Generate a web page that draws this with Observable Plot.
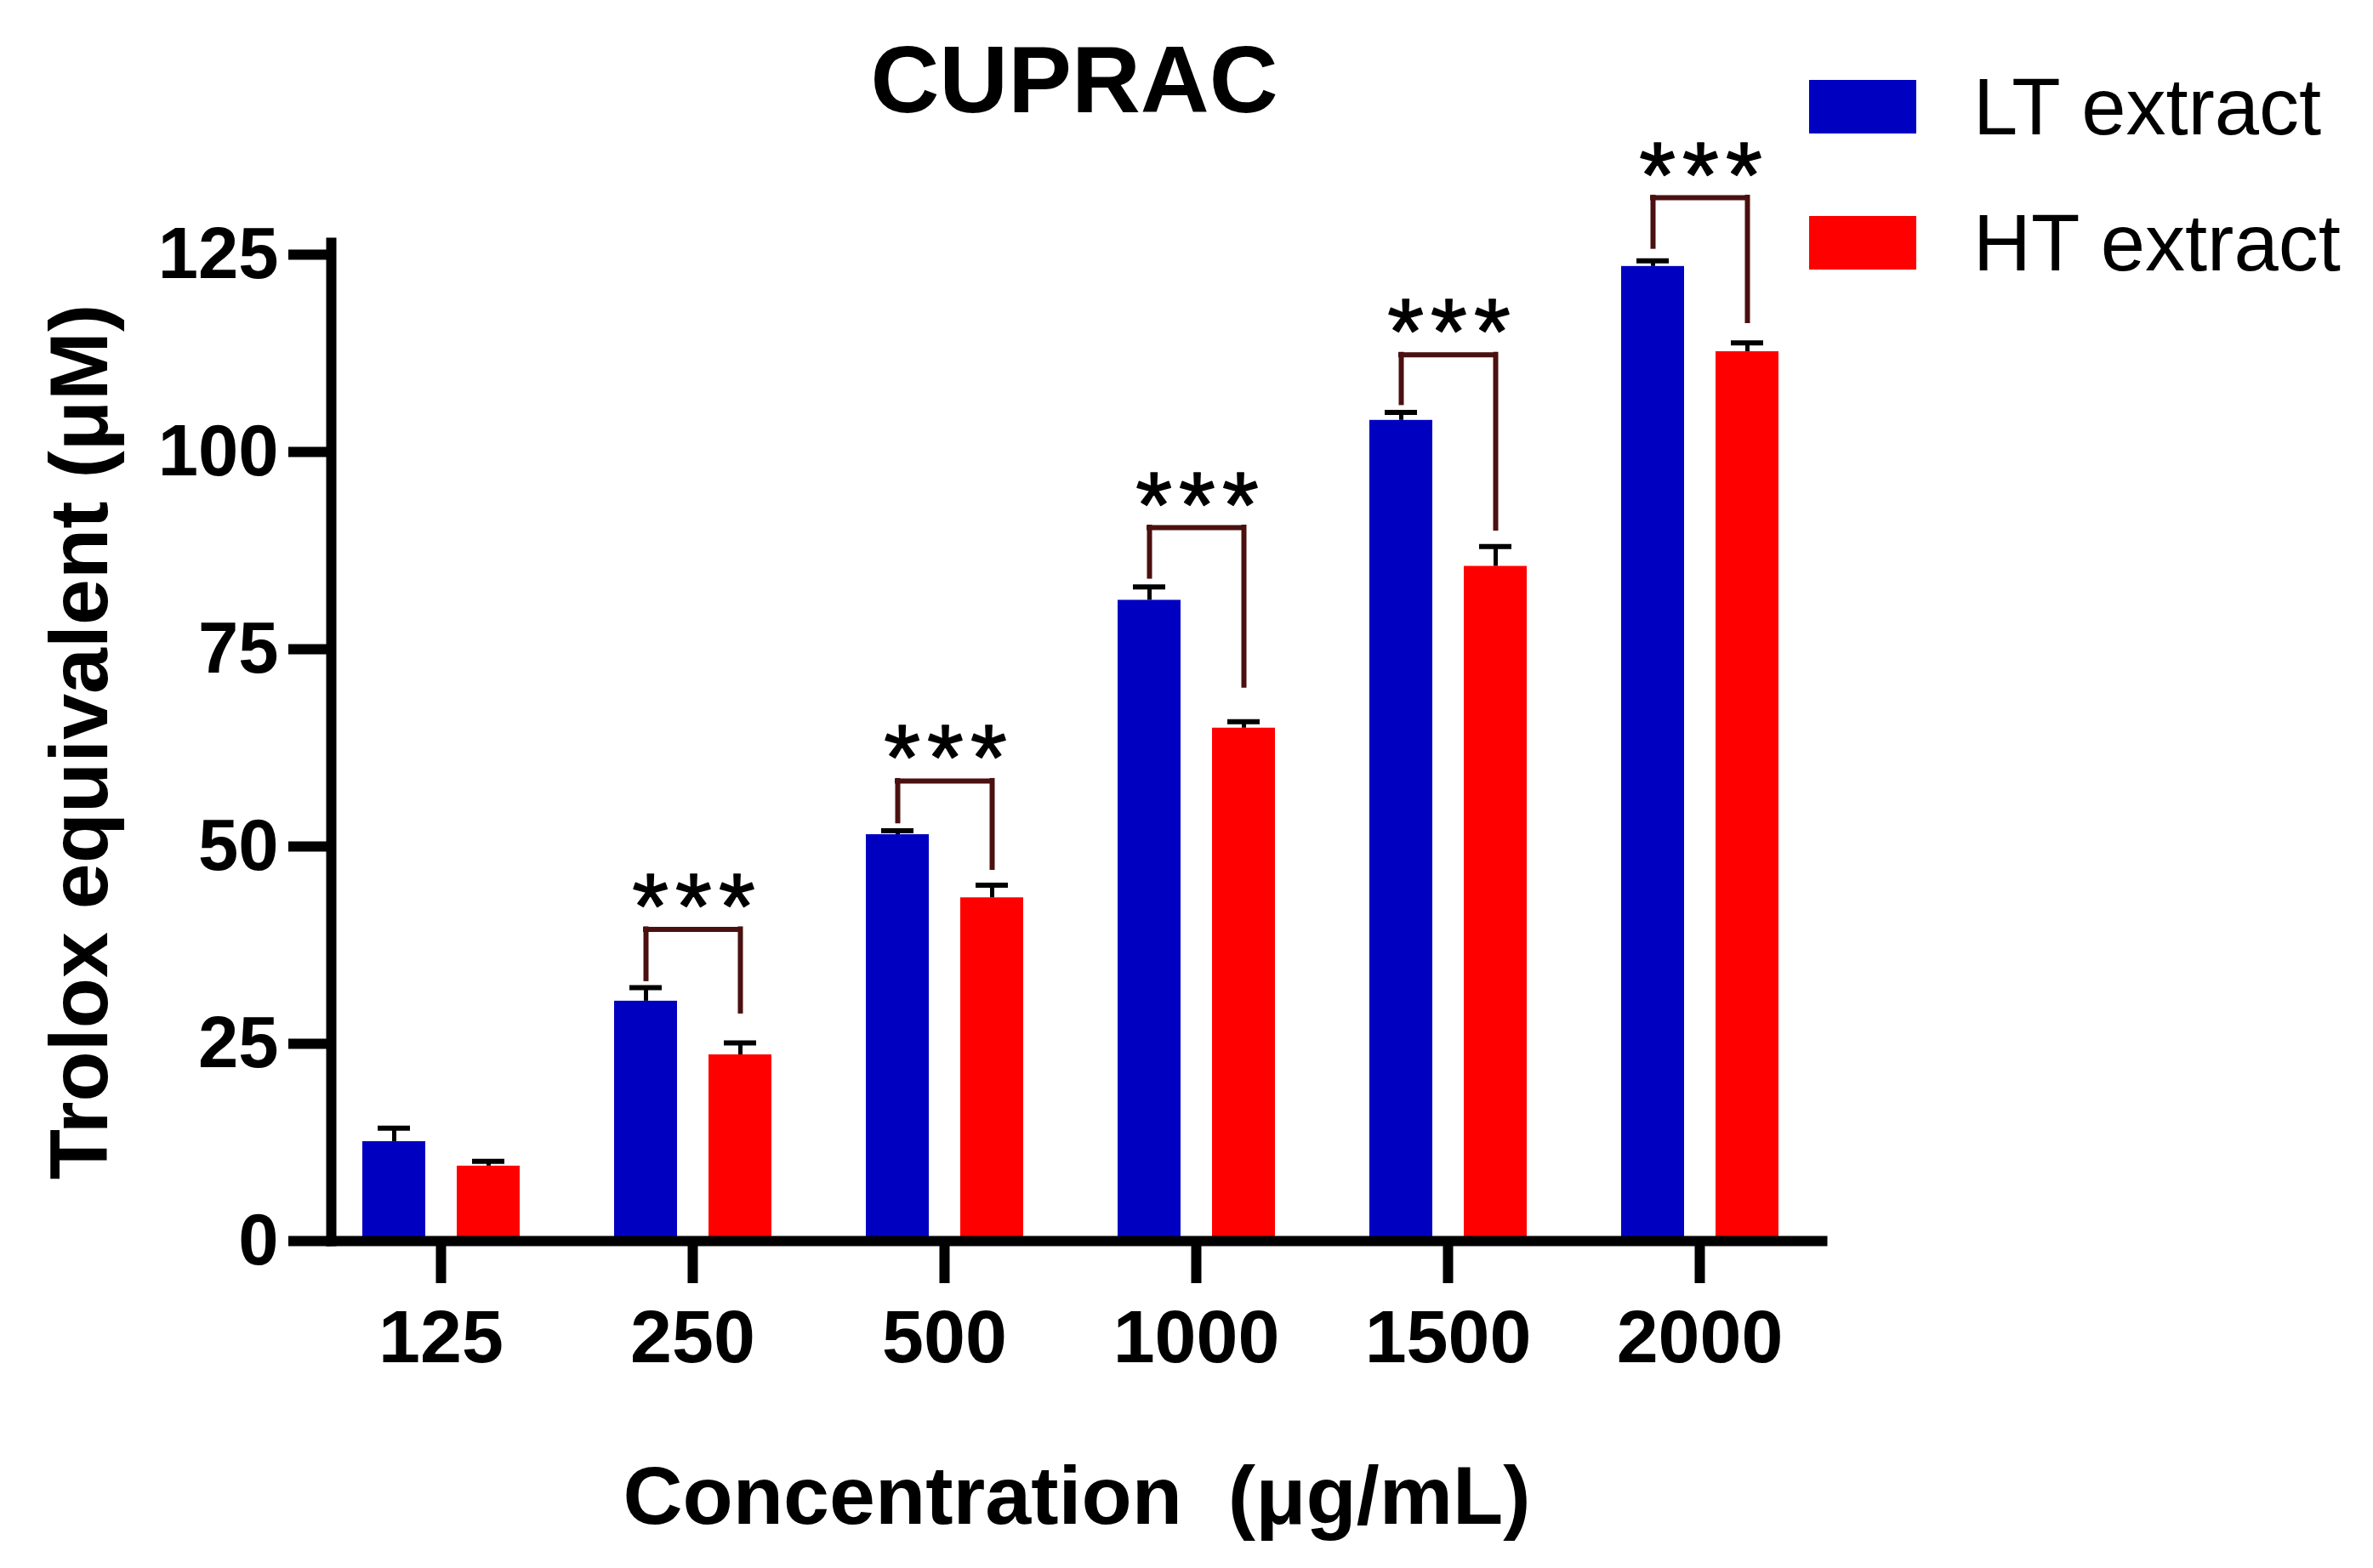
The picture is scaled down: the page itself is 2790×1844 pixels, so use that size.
<!DOCTYPE html>
<html>
<head>
<meta charset="utf-8">
<script src="https://cdn.jsdelivr.net/npm/d3@7"></script>
<script src="https://cdn.jsdelivr.net/npm/@observablehq/plot@0.6"></script>
<style>
  body { margin: 0; background: #fff; }
  #chart { position: relative; width: 2790px; height: 1844px; font-family: "Liberation Sans", Arial, sans-serif; color: #000; }
  #chart svg { position: absolute; left: 0; top: 0; }
  .title { position: absolute; left: 1263px; top: 38px; transform: translateX(-50%); font-size: 112px; font-weight: bold; line-height: 1; white-space: nowrap; }
  .legend { position: absolute; left: 2127px; top: 94px; }
  .legend-row { display: flex; align-items: center; height: 63px; margin-bottom: 97px; }
  .swatch { width: 126px; height: 63px; margin-right: 67px; }
  .legend-row span { font-size: 94px; line-height: 1; white-space: nowrap; }
</style>
</head>
<body>
<div id="chart"></div>
<script>
// CUPRAC — Trolox equivalent of LT vs HT extract by concentration.
const concentrations = ["125", "250", "500", "1000", "1500", "2000"];
const seriesNames = ["LT extract", "HT extract"];
const seriesColors = ["#0000c0", "#ff0000"];

const ltMean = [12.6, 30.4, 51.5, 81.2, 104.0, 123.5];
const ltSD = [1.7, 1.7, 0.5, 1.7, 1.0, 0.7];
const htMean = [9.5, 23.6, 43.5, 65.0, 85.5, 112.7];
const htSD = [0.6, 1.5, 1.6, 0.8, 2.5, 1.1];

const yTicks = [0, 25, 50, 75, 100, 125];

// significance brackets (LT vs HT)
const bracketConc = ["250", "500", "1000", "1500", "2000"];
const bracketTop = [39.5, 58.3, 90.4, 112.3, 132.2];
const bracketLeftEnd = [33.2, 53.2, 84.2, 106.2, 126.0];
const bracketRightEnd = [29.1, 47.3, 70.4, 90.3, 116.6];
const bracketLabel = ["***", "***", "***", "***", "***"];

const titleText = "CUPRAC";
const xLabel = "Concentration\u00a0 (\u03bcg/mL)";
const yLabel = "Trolox equivalent (\u03bcM)";

const FONT = '"Liberation Sans", Arial, sans-serif';
const INK = "#000";
const BRACKET = "#4b1010";

const rows = concentrations.map(function (c, i) {
  return { conc: c, lt: ltMean[i], ltSd: ltSD[i], ht: htMean[i], htSd: htSD[i] };
});
const brackets = bracketConc.map(function (c, i) {
  return { conc: c, top: bracketTop[i], left: bracketLeftEnd[i], right: bracketRightEnd[i], sig: bracketLabel[i] };
});

const chart = Plot.plot({
  width: 2790,
  height: 1844,
  marginLeft: 389,
  marginRight: 648,
  marginTop: 285,
  marginBottom: 385,
  style: { background: "#fff", color: INK, fontFamily: FONT, fontSize: "88px", fontWeight: "bold", overflow: "visible" },
  x: { type: "band", domain: concentrations, range: [370, 2146], padding: 0 },
  y: { domain: [0, 126.5] },
  marks: [
    // bars, each group is 296px wide: LT on the left, HT on the right
    Plot.barY(rows, { x: "conc", y: "lt", fill: seriesColors[0], insetLeft: 56, insetRight: 166 }),
    Plot.barY(rows, { x: "conc", y: "ht", fill: seriesColors[1], insetLeft: 167, insetRight: 55 }),

    // error bars (mean + SD)
    Plot.ruleX(rows, { x: "conc", y1: "lt", y2: function (d) { return d.lt + d.ltSd; }, dx: -55, stroke: INK, strokeWidth: 5 }),
    Plot.tickY(rows, { x: "conc", y: function (d) { return d.lt + d.ltSd; }, insetLeft: 74, insetRight: 184, stroke: INK, strokeWidth: 6 }),
    Plot.ruleX(rows, { x: "conc", y1: "ht", y2: function (d) { return d.ht + d.htSd; }, dx: 56, stroke: INK, strokeWidth: 5 }),
    Plot.tickY(rows, { x: "conc", y: function (d) { return d.ht + d.htSd; }, insetLeft: 185, insetRight: 73, stroke: INK, strokeWidth: 6 }),

    // brackets
    Plot.ruleX(brackets, { x: "conc", y1: "left", y2: "top", dx: -55, stroke: BRACKET, strokeWidth: 6, strokeLinecap: "square" }),
    Plot.ruleX(brackets, { x: "conc", y1: "right", y2: "top", dx: 56, stroke: BRACKET, strokeWidth: 6, strokeLinecap: "square" }),
    Plot.tickY(brackets, { x: "conc", y: "top", insetLeft: 93, insetRight: 92, stroke: BRACKET, strokeWidth: 6, strokeLinecap: "square" }),
    Plot.text(brackets, { x: "conc", y: "top", text: "sig", lineAnchor: "bottom", dx: 5, dy: 10, fontSize: 110, fontWeight: "normal", fill: INK, stroke: INK, strokeWidth: 1.5 }),

    // axes
    Plot.axisY({ ticks: yTicks, tickSize: 50, tickPadding: 12, strokeWidth: 12, fontSize: 85, fontWeight: "bold", label: null }),
    Plot.axisX({ tickSize: 50, tickPadding: 30, strokeWidth: 12, fontSize: 88, fontWeight: "bold", label: null }),
    Plot.frame({ anchor: "left", stroke: INK, strokeWidth: 12 }),
    Plot.frame({ anchor: "bottom", stroke: INK, strokeWidth: 12 }),

    // axis titles
    Plot.text([yLabel], { text: function (d) { return d; }, frameAnchor: "left", rotate: -90, dx: -264, lineAnchor: "bottom", textAnchor: "middle", fontSize: 97, fontWeight: "bold" }),
    Plot.text([xLabel], { text: function (d) { return d; }, frameAnchor: "bottom", dy: 332, lineAnchor: "bottom", textAnchor: "middle", fontSize: 97, fontWeight: "bold" }),
  ],
});

// spread the significance asterisks a little, as in the original figure
d3.select(chart).selectAll("text")
  .filter(function () { return this.textContent === "***"; })
  .attr("letter-spacing", 8);

const root = document.getElementById("chart");
root.appendChild(chart);

const title = document.createElement("div");
title.className = "title";
title.textContent = titleText;
root.appendChild(title);

const legend = document.createElement("div");
legend.className = "legend";
seriesNames.forEach(function (name, i) {
  const row = document.createElement("div");
  row.className = "legend-row";
  const sw = document.createElement("div");
  sw.className = "swatch";
  sw.style.background = seriesColors[i];
  const label = document.createElement("span");
  label.textContent = name;
  row.appendChild(sw);
  row.appendChild(label);
  legend.appendChild(row);
});
root.appendChild(legend);
</script>
</body>
</html>
